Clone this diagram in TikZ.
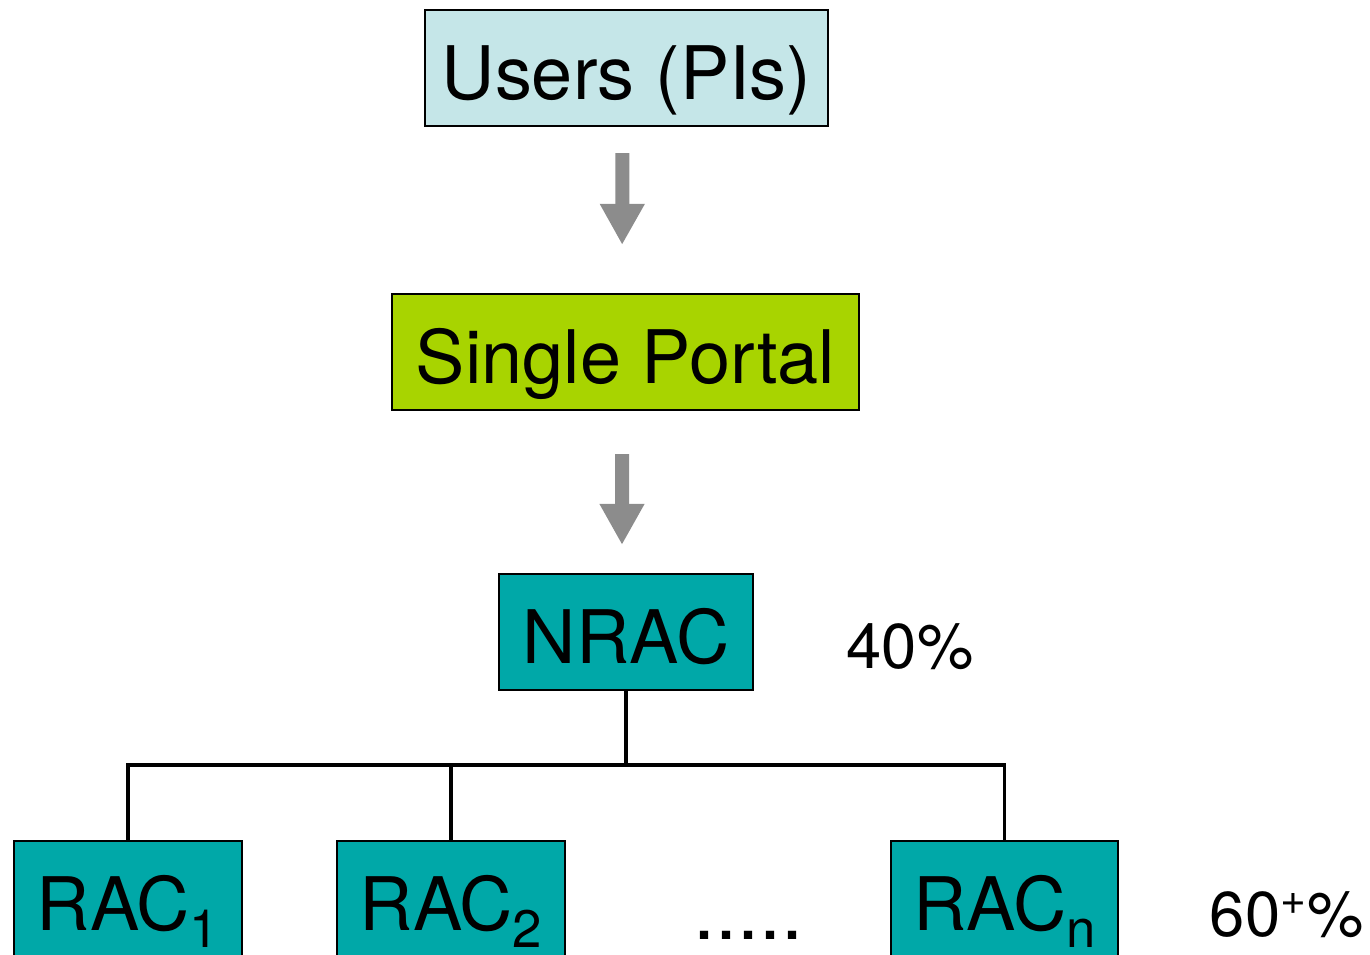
\documentclass[tikz,border=0pt]{standalone}
\usepackage{fontspec}
\setmainfont{TeX Gyre Heros}
\usetikzlibrary{arrows.meta}
\definecolor{usersfill}{HTML}{C5E6E8}
\definecolor{portalfill}{HTML}{A8D400}
\definecolor{racfill}{HTML}{00A8A8}
\definecolor{arrowgray}{HTML}{8C8C8C}
\newcommand{\racsub}[1]{\raisebox{-0.45ex}{\fontsize{15}{18}\selectfont #1}}
\begin{document}
\begin{tikzpicture}[x=0.01cm,y=-0.01cm,
    box/.style={draw=black,line width=0.6pt,inner sep=0pt,minimum height=1.16cm,
      text height=0.62cm,text depth=0pt,font=\fontsize{21}{26}\selectfont},
    flow/.style={draw=arrowgray,line width=0.14cm,
      -{Triangle[width=0.42cm,length=0.41cm]}},
    tree/.style={draw=black,line width=0.9pt},
    share/.style={font=\fontsize{18}{22}\selectfont}]
  \clip (0,0) rectangle (1370,955);
  \draw
    (626.5,68) node[box,fill=usersfill,minimum width=4.03cm] (users){Users (PIs)}
    (625.5,352) node[box,fill=portalfill,minimum width=4.67cm] (portal){Single Portal}
    (626,632) node[box,fill=racfill,minimum width=2.54cm] (nrac){NRAC}
    (128,899) node[box,fill=racfill,minimum width=2.28cm] (rac1){RAC\racsub{1}}
    (451,899) node[box,fill=racfill,minimum width=2.28cm] (rac2){RAC\racsub{2}}
    (1004.5,899) node[box,fill=racfill,minimum width=2.27cm] (racn){RAC\racsub{n}}
    (748,939) node[anchor=base,inner sep=0pt,font=\fontsize{22.5}{26}\selectfont] (dots){.....}
    (910,647) node[share] (nshare){40\%}
    (1287,915) node[share] (rshare){60\textsuperscript{+}\%};
  \coordinate (split) at (626,765);
  \begin{scope}[flow]
    \draw[shorten <=0.26cm,shorten >=0.48cm] ([xshift=-0.04cm]users.south) to ([xshift=-0.035cm]portal.north);
    \draw[shorten <=0.43cm,shorten >=0.28cm] ([xshift=-0.035cm]portal.south) to ([xshift=-0.04cm]nrac.north);
  \end{scope}
  \begin{scope}[tree]
    \draw (nrac) to (split);
    \draw (split) -| (rac1);
    \draw (split) -| (rac2);
    \draw (split) -| (racn);
  \end{scope}
\end{tikzpicture}
\end{document}
